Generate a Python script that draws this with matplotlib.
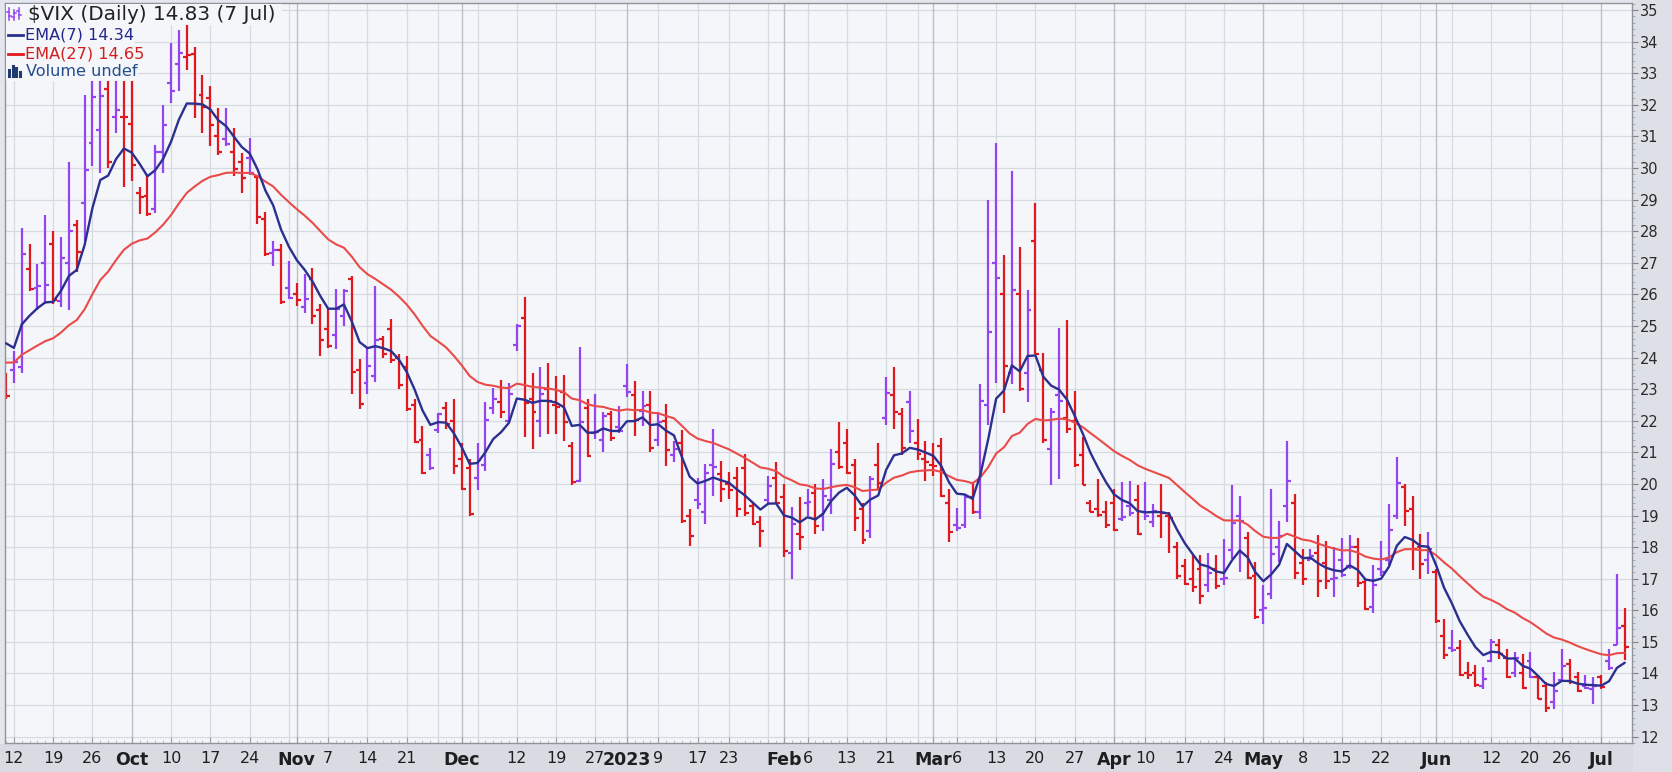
import numpy as np
import pandas as pd
import matplotlib
matplotlib.use("Agg")
import matplotlib.pyplot as plt
from matplotlib.lines import Line2D
from matplotlib.patches import Rectangle

# ---------------- data ----------------
holidays = ["2022-11-24", "2022-12-26", "2023-01-02", "2023-01-16", "2023-02-20",
            "2023-04-07", "2023-05-29", "2023-06-19", "2023-07-04"]
start_date = "2022-09-09"
end_date = "2023-07-07"

opens = [23.5, 23.6, 23.7, 26.8, 26.2, 27.0, 27.6, 25.8, 27.0, 28.2,
         28.9, 30.8, 31.2, 32.5, 31.6, 31.6, 31.4, 29.2, 29.1, 28.7,
         30.5, 32.7, 33.3, 33.5, 33.6, 32.3, 32.2, 31.0, 30.9, 30.5,
         30.2, 30.3, 29.7, 28.37, 27.3, 27.4, 26.2, 26.0, 25.6, 26.5,
         25.5, 24.9, 24.7, 25.3, 26.5, 23.6, 23.2, 23.4, 24.6, 24.9,
         24.0, 23.7, 22.5, 21.4, 20.9, 21.7, 22.4, 22.0, 20.8, 20.5,
         20.2, 20.6, 22.4, 22.6, 22.0, 24.4, 25.26, 22.7, 22.0, 23.0,
         22.5, 22.9, 21.2, 20.1, 22.4, 21.6, 21.4, 22.2, 21.8, 23.1,
         22.8, 22.3, 22.5, 21.4, 22.0, 20.9, 21.3, 19.0, 19.5, 19.1,
         20.6, 20.3, 20.0, 20.2, 20.5, 19.3, 18.8, 19.5, 20.2, 19.6,
         17.8, 18.4, 19.4, 19.7, 19.0, 19.5, 21.0, 21.3, 20.6, 19.2,
         18.5, 20.6, 22.1, 22.8, 22.2, 22.6, 21.3, 20.8, 20.6, 21.2,
         19.4, 18.7, 18.7, 19.6, 19.1, 22.5, 27.0, 26.0, 23.5, 26.0,
         23.5, 27.7, 23.6, 21.1, 22.8, 22.1, 22.0, 20.9, 19.4, 19.2,
         19.1, 19.4, 18.9, 19.3, 19.5, 19.1, 18.8, 19.0, 19.0, 18.0,
         17.4, 17.0, 17.3, 16.8, 17.3, 17.0, 17.9, 19.0, 18.3, 17.1,
         16.0, 16.5, 18.0, 19.3, 19.4, 17.5, 17.6, 17.8, 17.5, 17.0,
         17.6, 17.4, 18.0, 16.9, 16.1, 17.3, 17.6, 19.0, 19.9, 19.2,
         18.0, 17.6, 17.2, 15.2, 14.8, 14.8, 14.0, 14.0, 13.6, 14.4,
         14.9, 14.5, 14.0, 14.0, 14.4, 13.9, 13.6, 13.1, 13.8, 14.3,
         13.9, 13.6, 13.5, 13.9, 14.4, 14.9, 15.5]
highs = [23.5, 24.2, 28.1, 27.6, 26.95, 28.5, 28.0, 27.8, 30.2, 28.35,
         32.3, 33.0, 33.4, 34.0, 32.9, 33.6, 32.9, 29.4, 29.8, 30.74,
         32.0, 33.95, 34.37, 34.53, 33.84, 32.95, 32.58, 31.9, 31.9, 31.26,
         30.47, 30.95, 29.79, 28.6, 27.68, 27.58, 27.05, 26.37, 26.63, 26.84,
         25.68, 25.58, 26.16, 26.16, 26.58, 23.95, 24.32, 26.26, 24.68, 25.21,
         24.1, 24.05, 22.68, 21.84, 21.15, 22.25, 22.6, 22.7, 21.3, 20.8,
         21.3, 22.6, 23.05, 23.3, 23.2, 25.05, 25.9, 23.5, 23.7, 23.84,
         23.42, 23.44, 21.32, 24.32, 22.68, 22.84, 22.26, 22.32, 22.47, 23.79,
         23.26, 22.95, 22.95, 22.26, 22.53, 21.37, 21.7, 19.2, 20.2, 20.63,
         21.74, 20.74, 20.37, 20.53, 20.95, 19.42, 19.0, 20.26, 20.68, 20.0,
         19.26, 19.58, 19.85, 20.0, 20.15, 21.1, 21.95, 21.75, 20.8, 19.4,
         20.25, 21.3, 23.37, 23.7, 22.4, 22.95, 22.05, 21.35, 21.3, 21.45,
         19.85, 19.25, 19.65, 20.05, 23.15, 29.0, 30.8, 27.25, 29.9, 27.5,
         26.15, 28.9, 24.15, 22.4, 24.95, 25.2, 22.95, 21.47, 19.5, 20.15,
         19.47, 19.85, 20.05, 20.1, 19.95, 20.05, 19.37, 20.0, 19.1, 18.15,
         17.63, 17.74, 17.74, 17.8, 17.74, 18.26, 19.95, 19.63, 18.47, 17.53,
         16.8, 19.84, 18.84, 21.37, 19.68, 17.95, 17.95, 18.37, 18.2, 18.0,
         18.3, 18.37, 18.3, 17.0, 17.42, 18.2, 19.37, 20.84, 20.0, 19.63,
         18.42, 18.47, 17.31, 15.73, 15.37, 15.05, 14.37, 14.26, 14.2, 15.1,
         15.1, 14.79, 14.68, 14.63, 14.68, 13.95, 13.73, 14.05, 14.79, 14.47,
         14.05, 13.95, 13.89, 13.95, 14.79, 17.15, 16.07]
lows = [22.7, 23.2, 23.5, 26.1, 25.5, 25.7, 25.7, 25.6, 25.5, 26.7,
        27.7, 30.05, 29.85, 30.0, 31.1, 29.4, 29.6, 28.55, 28.47, 28.58,
        29.84, 32.05, 32.42, 33.1, 31.58, 31.1, 30.68, 30.42, 30.68, 29.74,
        29.21, 29.79, 28.21, 27.2, 26.89, 25.7, 25.84, 25.63, 25.42, 25.05,
        24.05, 24.3, 24.26, 25.0, 22.84, 22.37, 22.84, 23.21, 24.0, 23.84,
        23.0, 22.32, 21.3, 20.3, 20.45, 21.6, 21.75, 20.3, 19.8, 19.0,
        19.8, 20.4, 22.2, 22.1, 21.95, 24.2, 21.47, 21.1, 21.5, 21.58,
        21.58, 21.37, 19.95, 20.05, 20.85, 21.42, 21.0, 21.37, 21.6, 22.74,
        21.53, 21.84, 21.0, 21.21, 20.58, 20.68, 18.75, 18.05, 19.2, 18.74,
        19.63, 19.42, 19.53, 18.95, 19.0, 18.7, 18.0, 19.37, 19.37, 17.68,
        17.0, 17.9, 19.0, 18.4, 18.5, 19.05, 20.47, 20.3, 18.5, 18.1,
        18.3, 19.85, 21.85, 21.75, 20.9, 21.3, 20.75, 20.1, 20.25, 19.6,
        18.15, 18.5, 18.6, 19.05, 18.9, 21.85, 23.2, 22.25, 23.15, 22.95,
        22.6, 24.1, 21.3, 19.95, 20.15, 21.6, 20.55, 19.95, 19.1, 18.95,
        18.6, 18.5, 18.84, 19.0, 18.38, 18.85, 18.63, 18.3, 17.8, 17.0,
        16.8, 16.58, 16.2, 16.58, 16.68, 16.8, 17.63, 17.2, 17.0, 15.74,
        15.58, 16.37, 17.53, 18.8, 17.0, 16.79, 17.58, 16.42, 16.68, 16.42,
        17.05, 17.3, 16.73, 16.0, 15.9, 17.1, 17.42, 18.89, 18.68, 17.26,
        17.0, 17.15, 15.6, 14.47, 14.68, 13.93, 13.84, 13.58, 13.5, 14.37,
        14.47, 13.85, 13.89, 13.5, 13.85, 13.18, 12.79, 12.89, 13.73, 13.68,
        13.42, 13.5, 13.05, 13.5, 14.1, 14.89, 14.42]
closes = [22.79, 23.87, 27.27, 26.16, 26.27, 26.30, 25.81, 27.16, 27.99, 27.35,
          29.92, 32.26, 32.27, 30.18, 31.84, 31.62, 30.10, 29.07, 28.55, 30.52,
          31.36, 32.45, 33.63, 33.57, 32.02, 31.94, 31.37, 30.50, 30.76, 29.98,
          29.69, 29.85, 28.46, 27.28, 27.39, 25.75, 25.88, 25.81, 25.86, 25.30,
          24.55, 24.35, 25.54, 26.09, 23.53, 22.52, 23.73, 24.54, 24.11, 23.93,
          23.12, 22.36, 21.32, 20.35, 20.50, 22.21, 21.89, 20.58, 19.84, 19.06,
          20.75, 22.01, 22.68, 22.29, 22.83, 25.00, 22.55, 22.26, 22.83, 22.62,
          22.42, 21.97, 20.07, 21.97, 20.87, 21.65, 22.14, 21.44, 21.67, 22.90,
          22.01, 22.46, 21.13, 21.97, 21.07, 21.09, 18.83, 18.35, 19.36, 20.34,
          20.52, 19.85, 19.81, 19.20, 19.08, 18.73, 18.51, 19.94, 19.40, 17.87,
          18.73, 18.33, 19.43, 18.66, 19.63, 20.63, 20.53, 20.34, 18.91, 18.23,
          20.17, 20.02, 22.87, 22.29, 21.14, 21.67, 20.95, 20.70, 20.58, 19.63,
          18.49, 18.60, 19.59, 19.11, 22.61, 24.80, 26.52, 23.73, 26.14, 22.99,
          25.51, 24.12, 21.38, 22.26, 22.61, 21.74, 20.60, 19.97, 19.12, 19.02,
          18.70, 18.55, 18.95, 19.08, 18.40, 18.97, 19.15, 19.09, 18.91, 17.07,
          16.83, 16.74, 16.46, 17.18, 16.77, 17.03, 18.76, 18.84, 17.03, 15.78,
          16.08, 17.78, 18.34, 20.09, 17.19, 16.98, 17.71, 16.94, 16.93, 17.03,
          17.12, 17.99, 16.87, 16.05, 16.81, 17.21, 18.53, 20.03, 19.14, 17.95,
          17.46, 17.94, 15.65, 14.60, 14.73, 13.96, 13.94, 13.65, 13.83, 15.01,
          14.61, 13.88, 14.50, 13.54, 13.88, 13.20, 12.91, 13.44, 14.25, 13.74,
          13.43, 13.54, 13.59, 13.57, 14.18, 15.44, 14.83]
prev_close = 23.61          # close of the bar before the first one
ema7_first = 24.45          # EMA values at the first bar
ema27_first = 23.84

tick_dates = ["2022-09-12", "2022-09-19", "2022-09-26", "2022-10-03", "2022-10-10",
              "2022-10-17", "2022-10-24", "2022-11-01", "2022-11-07", "2022-11-14",
              "2022-11-21", "2022-12-01", "2022-12-12", "2022-12-19", "2022-12-27",
              "2023-01-03", "2023-01-09", "2023-01-17", "2023-01-23", "2023-02-01",
              "2023-02-06", "2023-02-13", "2023-02-21", "2023-03-01", "2023-03-06",
              "2023-03-13", "2023-03-20", "2023-03-27", "2023-04-03", "2023-04-10",
              "2023-04-17", "2023-04-24", "2023-05-01", "2023-05-08", "2023-05-15",
              "2023-05-22", "2023-06-01", "2023-06-12", "2023-06-20", "2023-06-26",
              "2023-07-03"]
tick_labels = ["12", "19", "26", "Oct", "10", "17", "24", "Nov", "7", "14", "21",
               "Dec", "12", "19", "27", "2023", "9", "17", "23", "Feb", "6", "13",
               "21", "Mar", "6", "13", "20", "27", "Apr", "10", "17", "24", "May",
               "8", "15", "22", "Jun", "12", "20", "26", "Jul"]
bold_labels = {"Oct", "Nov", "Dec", "2023", "Feb", "Mar", "Apr", "May", "Jun", "Jul"}

# ---------------- derived ----------------
dates = pd.bdate_range(start_date, end_date)
dates = dates[~dates.isin(pd.to_datetime(holidays))]
n = len(dates)
x = np.arange(n)
O = np.array(opens); H = np.array(highs); L = np.array(lows); C = np.array(closes)

def ema(vals, period, first):
    a = 2.0 / (period + 1)
    out = [first]
    for v in vals[1:]:
        out.append(out[-1] + a * (v - out[-1]))
    return np.array(out)

ema7 = ema(C, 7, ema7_first)
ema27 = ema(C, 27, ema27_first)

prevC = np.concatenate([[prev_close], C[:-1]])
up = C >= prevC

date_pos = {d.strftime("%Y-%m-%d"): i for i, d in enumerate(dates)}
tick_x = [date_pos[d] for d in tick_dates]
week_key = dates.to_period("W")
week_starts = [i for i in range(n) if i == 0 or week_key[i] != week_key[i - 1]][1:]
month_key = dates.to_period("M")
month_starts = [i for i in range(1, n) if month_key[i] != month_key[i - 1]]

# ---------------- style ----------------
W, Hpx = 1672, 772
PURPLE = "#9445F0"
RED = "#E0191E"
NAVY = "#2B2F8E"
EMA27C = "#EA4A48"
PLOTBG = "#F4F6FA"
GRID = "#D6DAE1"
GRID_M = "#B9BEC7"

fig = plt.figure(figsize=(W / 100, Hpx / 100), dpi=100)
fig.patch.set_facecolor("#E3E6EC")

def fx(px):
    return px / W

def fy(py):
    return 1 - py / Hpx

ax_l, ax_r, ax_t, ax_b = 5, 1632, 3, 743
ax = fig.add_axes([fx(ax_l), fy(ax_b), fx(ax_r - ax_l), (ax_b - ax_t) / Hpx])
ax.set_facecolor(PLOTBG)
ax.set_xlim(-0.13, 206.92)
ax.set_ylim(11.853, 35.22)

# grid
for v in range(12, 36):
    ax.axhline(v, color=GRID, lw=0.9, zorder=0)
for i in week_starts:
    if i not in month_starts:
        ax.axvline(i, color=GRID, lw=0.9, zorder=0)
for i in month_starts:
    ax.axvline(i, color=GRID_M, lw=1.0, zorder=0)

# OHLC bars
cols = np.where(up, PURPLE, RED)
tw = 0.5
ax.vlines(x, L, H, colors=cols, lw=1.6, zorder=2)
ax.hlines(O, x - tw, x, colors=cols, lw=1.6, zorder=2)
ax.hlines(C, x, x + tw, colors=cols, lw=1.6, zorder=2)

# EMAs
ax.plot(x, ema27, color=EMA27C, lw=1.5, zorder=3, solid_capstyle="round")
ax.plot(x, ema7, color=NAVY, lw=1.7, zorder=4, solid_capstyle="round")

# axes frame & ticks
for s in ax.spines.values():
    s.set_color("#8E949C")
    s.set_linewidth(1.0)
ax.yaxis.tick_right()
ax.set_yticks(range(12, 36))
ax.set_yticks(np.arange(11.8, 35.3, 0.2), minor=True)
ax.tick_params(axis="y", which="major", length=4, color="#7C828A", labelsize=10.5,
               labelcolor="#2A2A2A", pad=2)
ax.tick_params(axis="y", which="minor", length=2, color="#9CA1A9")
ax.set_xticks(tick_x)
ax.set_xticklabels(tick_labels)
ax.set_xticks(x, minor=True)
ax.tick_params(axis="x", which="major", length=4, direction="in", color="#9CA1A9",
               labelsize=11.5, labelcolor="#1E1E1E", pad=6)
ax.tick_params(axis="x", which="minor", length=2, direction="in", color="#B0B5BD")
for lab in ax.get_xticklabels():
    lab.set_family(["Liberation Sans Narrow", "DejaVu Sans"])
    if lab.get_text() in bold_labels:
        lab.set_fontweight("bold")
        lab.set_fontsize(12.5)
for lab in ax.get_yticklabels():
    lab.set_family(["DejaVu Sans"])

# bottom band and right strip
fig.add_artist(Rectangle((0, 0), 1, fy(ax_b + 1), transform=fig.transFigure,
                         facecolor="#D8DCE2", edgecolor="none", zorder=-5))
fig.add_artist(Rectangle((fx(ax_r + 1), 0), 1 - fx(ax_r + 1), 1, transform=fig.transFigure,
                         facecolor="#DDE0E6", edgecolor="none", zorder=-5))

# legend boxes (hide bars/grid under the legend)
for (x0, y0, x1, y1) in [(6, 4, 282, 25), (6, 25, 134, 45), (6, 45, 141, 63), (6, 63, 138, 81)]:
    fig.add_artist(Rectangle((fx(x0), fy(y1)), fx(x1 - x0), (y1 - y0) / Hpx,
                             transform=fig.transFigure, facecolor=PLOTBG,
                             edgecolor="none", zorder=5))

# legend icons
def fline(xs, ys, color, lw):
    fig.add_artist(Line2D([fx(v) for v in xs], [fy(v) for v in ys],
                          transform=fig.transFigure, color=color, lw=lw, zorder=6))

for bx, (t, b, o, c) in zip([9, 14, 19], [(8, 20, 12, 16), (10, 20, 17, 13), (8, 19, 11, 15)]):
    fline([bx, bx], [t, b], PURPLE, 1.1)
    fline([bx - 2, bx], [o, o], PURPLE, 1.1)
    fline([bx, bx + 2], [c, c], PURPLE, 1.1)
fline([8, 23], [35, 35], NAVY, 2.0)
fline([8, 23], [54, 54], RED, 2.0)
for bx, top in zip([9, 12.5, 16, 19.5], [70, 66, 68, 72]):
    fline([bx, bx], [top, 76], "#1F3B6E", 2.2)

fig.text(fx(28), fy(14), "$VIX (Daily) 14.83 (7 Jul)", color="#222222",
         family=["DejaVu Sans"], fontsize=14.4, va="center", ha="left", zorder=7)
lfont = dict(family=["DejaVu Sans"], fontsize=11.6, va="center", ha="left", zorder=7)
fig.text(fx(25), fy(35), "EMA(7) 14.34", color="#23288A", **lfont)
fig.text(fx(25), fy(54), "EMA(27) 14.65", color="#D41E1E", **lfont)
fig.text(fx(26), fy(72), "Volume undef", color="#244E8C", **lfont)

fig.savefig("out.png", dpi=100, facecolor=fig.get_facecolor())
